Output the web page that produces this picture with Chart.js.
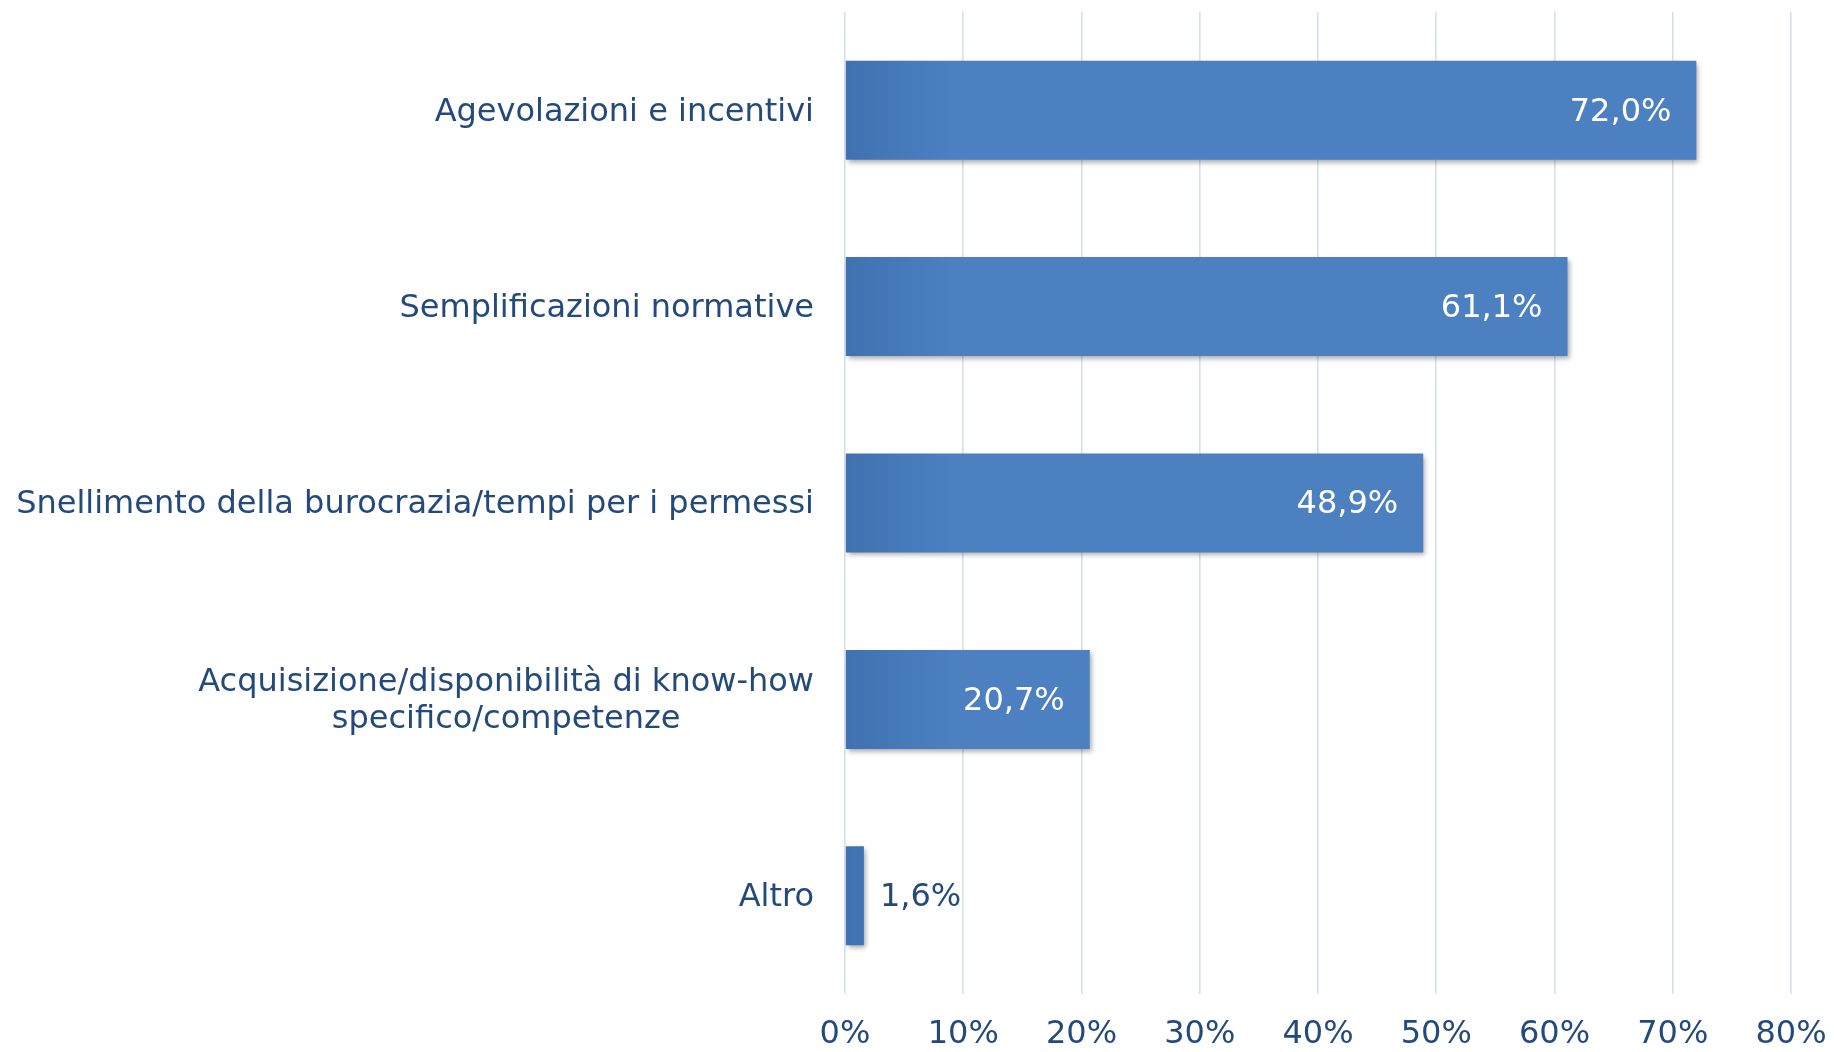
<!DOCTYPE html>
<html>
<head>
<meta charset="utf-8">
<script src="https://cdn.jsdelivr.net/npm/chart.js@4"></script>
<style>
  html, body { margin: 0; padding: 0; background: #ffffff; }
  #wrap { width: 1834px; height: 1052px; }
</style>
</head>
<body>
<div id="wrap"><canvas id="chart"></canvas></div>
<script>
// categories (multi-line label as array)
const categories = [
    'Agevolazioni e incentivi',
    'Semplificazioni normative',
    'Snellimento della burocrazia/tempi per i permessi',
    ['Acquisizione/disponibilità di know-how', 'specifico/competenze'],
    'Altro'
];
const values = [72.0, 61.1, 48.9, 20.7, 1.6];
const tickValues = [0, 10, 20, 30, 40, 50, 60, 70, 80];

const textColor = '#244a7c';
const fontFamily = 'Verdana, "DejaVu Sans", sans-serif';
const fontSize = 32;

// draws the category labels on the left, right-aligned, extra lines centred
const categoryLabels = {
    id: 'categoryLabels',
    afterDraw(chart) {
        const ctx = chart.ctx;
        const yScale = chart.scales.y;
        const right = chart.chartArea.left - 31;
        ctx.save();
        ctx.font = fontSize + 'px ' + fontFamily;
        ctx.fillStyle = textColor;
        ctx.textBaseline = 'middle';
        ctx.textAlign = 'center';
        categories.forEach((label, i) => {
            const lines = Array.isArray(label) ? label : [label];
            const widths = lines.map(l => ctx.measureText(l).width);
            const maxW = Math.max(...widths);
            const cx = right - maxW / 2;
            const lineH = 37;
            const y0 = yScale.getPixelForValue(i) + 2 - (lines.length - 1) * lineH / 2;
            lines.forEach((l, j) => ctx.fillText(l, cx, y0 + j * lineH));
        });
        ctx.restore();
    }
};

// value labels: white inside the bar end, or dark outside when the bar is small
const valueLabels = {
    id: 'valueLabels',
    afterDatasetsDraw(chart) {
        const ctx = chart.ctx;
        const meta = chart.getDatasetMeta(0);
        ctx.save();
        ctx.font = fontSize + 'px ' + fontFamily;
        ctx.textBaseline = 'middle';
        meta.data.forEach((bar, i) => {
            const text = values[i].toFixed(1).replace('.', ',') + '%';
            const w = ctx.measureText(text).width;
            if (bar.x - bar.base > w + 40) {
                ctx.fillStyle = '#ffffff';
                ctx.textAlign = 'right';
                ctx.fillText(text, bar.x - 25, bar.y + 2);
            } else {
                ctx.fillStyle = textColor;
                ctx.textAlign = 'left';
                ctx.fillText(text, bar.x + 16, bar.y + 2);
            }
        });
        ctx.restore();
    }
};

// soft drop shadow under the bars
const barShadow = {
    id: 'barShadow',
    beforeDatasetDraw(chart) {
        const ctx = chart.ctx;
        ctx.save();
        ctx.shadowColor = 'rgba(0, 0, 0, 0.35)';
        ctx.shadowBlur = 5;
        ctx.shadowOffsetX = 2;
        ctx.shadowOffsetY = 3;
    },
    afterDatasetDraw(chart) {
        chart.ctx.restore();
    }
};

function barGradient(context) {
    const chart = context.chart;
    const area = chart.chartArea;
    if (!area) return '#4f81bd';
    const g = chart.ctx.createLinearGradient(area.left, 0, area.left + 110, 0);
    g.addColorStop(0, '#4072b2');
    g.addColorStop(1, '#4d80c0');
    return g;
}

const ctx = document.getElementById('chart').getContext('2d');
new Chart(ctx, {
    type: 'bar',
    data: {
        labels: categories,
        datasets: [{
            data: values,
            backgroundColor: barGradient,
            borderWidth: 0,
            barPercentage: 0.504,
            categoryPercentage: 1.0
        }]
    },
    options: {
        indexAxis: 'y',
        responsive: true,
        maintainAspectRatio: false,
        animation: false,
        layout: {
            padding: { left: 845, right: 43, top: 12, bottom: 0 }
        },
        plugins: {
            legend: { display: false },
            tooltip: { enabled: false },
            title: { display: false }
        },
        scales: {
            x: {
                min: 0,
                max: 80,
                afterBuildTicks: axis => {
                    axis.ticks = tickValues.map(v => ({ value: v }));
                },
                afterFit: axis => {
                    axis.height = 58;
                    axis.paddingLeft = 0;
                    axis.paddingRight = 0;
                },
                grid: {
                    color: '#d3e0f0',
                    lineWidth: 1.6,
                    drawTicks: false
                },
                border: { display: false },
                ticks: {
                    padding: 23,
                    maxRotation: 0,
                    color: textColor,
                    font: { family: fontFamily, size: fontSize, lineHeight: 1.1 },
                    callback: v => v + '%'
                }
            },
            y: {
                display: false
            }
        }
    },
    plugins: [barShadow, valueLabels, categoryLabels]
});
</script>
</body>
</html>
